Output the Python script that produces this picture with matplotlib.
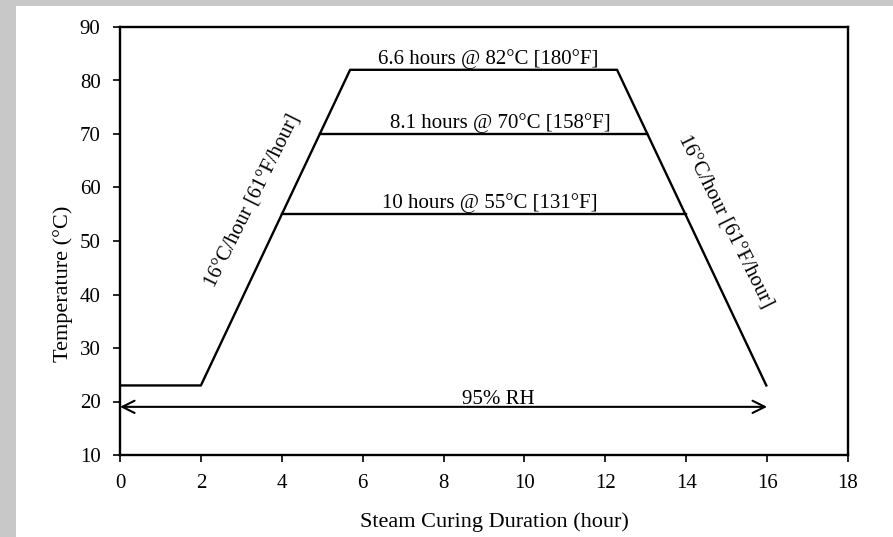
import matplotlib
matplotlib.use('Agg')
import matplotlib.pyplot as plt
from matplotlib.patches import Rectangle

# --- Curing profile (hour, degC) ---
profile_t = [0, 2, 5.69, 12.29, 15.98]
profile_T = [23, 23, 82, 82, 23]

# intermediate hold levels: (start, end, temperature)
hold_70 = [4.94, 13.04, 70]
hold_55 = [4.0, 14.0, 55]

hold_labels = ["6.6 hours @ 82°C [180°F]",
               "8.1 hours @ 70°C [158°F]",
               "10 hours @ 55°C [131°F]"]
hold_label_x = [9.1, 9.4, 9.15]
hold_label_y = [82, 70, 55]

rh_span = [0, 16]
rh_level = 19

xticks = [0, 2, 4, 6, 8, 10, 12, 14, 16, 18]
yticks = [10, 20, 30, 40, 50, 60, 70, 80, 90]

plt.rcParams['font.family'] = ['Liberation Serif', 'DejaVu Serif']

fig = plt.figure(figsize=(8.93, 5.37), dpi=100, facecolor='#c8c8c8')
# white page area inside the grey frame
fig.patches.append(Rectangle((16 / 893, 0), 1 - 16 / 893, 1 - 6 / 537,
                             transform=fig.transFigure, facecolor='white',
                             edgecolor='none', zorder=-10))

ax = fig.add_axes([120 / 893, 1 - 455 / 537, (848 - 120) / 893, (455 - 27) / 537])

lw = 1.7
ax.plot(profile_t, profile_T, color='black', lw=lw)
ax.plot(hold_70[:2], [hold_70[2]] * 2, color='black', lw=lw)
ax.plot(hold_55[:2], [hold_55[2]] * 2, color='black', lw=lw)

for lab, x, y in zip(hold_labels, hold_label_x, hold_label_y):
    ax.text(x, y + 0.2, lab, ha='center', va='bottom', fontsize=15)

ax.annotate('', xy=(rh_span[1], rh_level), xytext=(rh_span[0], rh_level),
            arrowprops=dict(arrowstyle='<->', color='black', lw=1.5,
                            mutation_scale=22, shrinkA=0, shrinkB=0))
ax.text(9.35, 20.4, "95% RH", ha='center', va='center', fontsize=15)

ax.text(3.29, 57.5, "16°C/hour [61°F/hour]", rotation=63.5, ha='center',
        va='center', rotation_mode='anchor', fontsize=15)
ax.text(14.96, 53.6, "16°C/hour [61°F/hour]", rotation=-63.5, ha='center',
        va='center', rotation_mode='anchor', fontsize=15)

ax.set_xlim(0, 18)
ax.set_ylim(10, 90)
ax.set_xticks(xticks)
ax.set_yticks(yticks)
ax.tick_params(direction='out', length=5, width=1.2, labelsize=15, pad=9)
for s in ax.spines.values():
    s.set_linewidth(1.7)
ax.set_xlabel("Steam Curing Duration (hour)", fontsize=16)
ax.set_ylabel("Temperature (°C)", fontsize=16)
ax.xaxis.set_label_coords(0.515, -0.133)
ax.yaxis.set_label_coords(-0.0646, 0.40)

fig.savefig("out.png", dpi=100, facecolor=fig.get_facecolor())
